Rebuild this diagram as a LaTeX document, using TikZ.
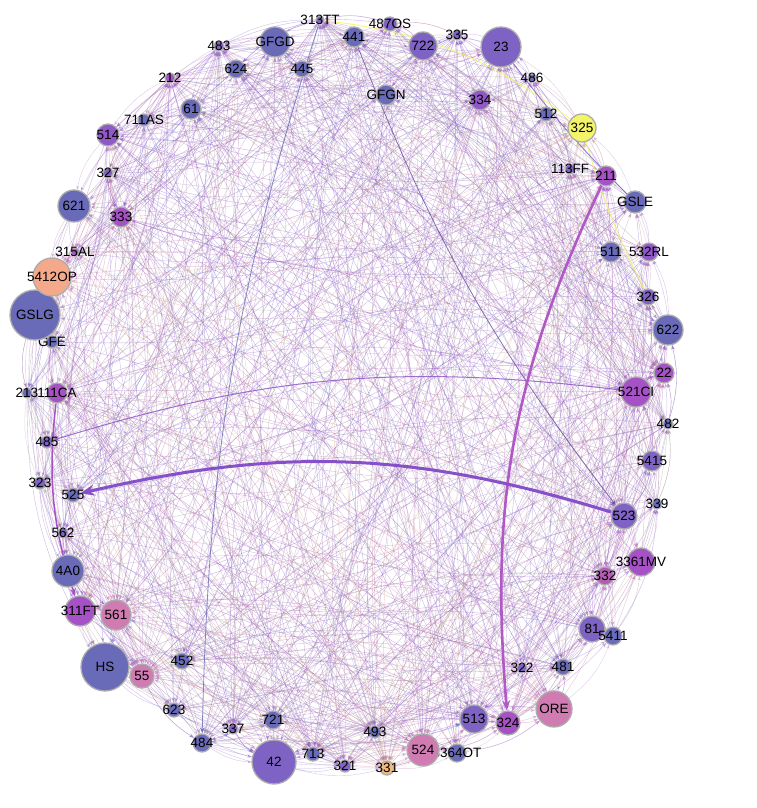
\documentclass[tikz,border=0pt]{standalone}
\usepackage{fontspec}
\setmainfont{Liberation Sans}
\usetikzlibrary{arrows.meta}
\definecolor{B}{HTML}{6A6BB8}
\definecolor{V}{HTML}{7E62C4}
\definecolor{P}{HTML}{9158C8}
\definecolor{M}{HTML}{A652C6}
\definecolor{N}{HTML}{B45CB4}
\definecolor{K}{HTML}{D07CB2}
\definecolor{S}{HTML}{F4A98A}
\definecolor{Y}{HTML}{F4F46A}
\definecolor{O}{HTML}{F6B87A}
\definecolor{E1}{HTML}{9A58D8}
\definecolor{E2}{HTML}{B49AEA}
\definecolor{E3}{HTML}{D866A8}
\definecolor{E4}{HTML}{F5A890}
\definecolor{E5}{HTML}{6E68D0}
\definecolor{E6}{HTML}{F2B25C}
\definecolor{E7}{HTML}{F0EE60}
\definecolor{thickA}{HTML}{8550C8}
\definecolor{thickB}{HTML}{B058C4}
\newcommand\pickcol[1]{%
  \ifdim#1pt<0.28pt \def\ec{E1}\else
  \ifdim#1pt<0.40pt \def\ec{E2}\else
  \ifdim#1pt<0.62pt \def\ec{E3}\else
  \ifdim#1pt<0.78pt \def\ec{E4}\else
  \ifdim#1pt<0.87pt \def\ec{E5}\else
  \ifdim#1pt<0.94pt \def\ec{E6}\else
  \def\ec{E7}\fi\fi\fi\fi\fi\fi}
\pgfdeclarelayer{bg}
\pgfsetlayers{bg,main}
\tikzset{
  nd/.style={circle, draw=gray!65, line width=1.3pt, inner sep=0pt},
  lbl/.style={font=\fontsize{13.5}{13.5}\selectfont, text=black, inner sep=0pt},
  edge/.style={line width=0.4pt, opacity=0.45, bend right=15, -{Stealth[length=5pt,width=3.5pt]}},
  ringedge/.style={line width=0.4pt, opacity=0.38, bend right=15, -{Stealth[length=4pt,width=3pt]}},
}
\begin{document}
\begin{tikzpicture}[x=1pt,y=1pt]
\useasboundingbox (0,0) rectangle (757,808);
\foreach \i/\nm/\x/\y/\r/\c/\w in {
1/313TT/320/20/4/V/3, 2/441/354/37/10/B/1, 3/487OS/390/24/7/V/2, 4/GFGN/386/95/10/B/1,
5/722/423/46/14/V/3, 6/335/457/35/5/V/2, 7/334/480/100/10/P/2, 8/23/501/47/20/V/3,
9/486/532/78/4/B/1, 10/512/546/114/7/B/1, 11/325/582/128/14/Y/2, 12/113FF/570/169/5/V/1,
13/211/606/176/10/M/2, 14/GSLE/635/202/11/B/1, 15/511/611/252/10/B/1, 16/532RL/649/252/9/P/1,
17/326/648/297/8/V/2, 18/622/668/330/15/B/1, 19/22/664/373/10/M/2, 20/521CI/636/392/15/M/3,
21/482/668/424/5/B/2, 22/5415/652/461/10/V/1, 23/339/657/504/5/B/1, 24/523/624/516/13/V/2,
25/3361MV/641/562/14/M/2, 26/332/605/576/9/N/3, 27/81/592/629/13/V/2, 28/5411/613/636/9/B/1,
29/481/563/667/8/B/2, 30/322/522/668/5/V/1, 31/ORE/554/709/18/K/3, 32/324/508/723/12/M/3,
33/513/474/719/14/V/3, 34/3364OT/457/753/9/B/1, 35/524/423/750/16/K/3, 36/493/375/732/6/B/3,
37/331/387/768/7/O/3, 38/321/345/766/6/V/2, 39/713/313/754/7/B/3, 40/42/274/762/22/V/2,
41/721/273/720/9/B/2, 42/337/233/729/5/V/3, 43/484/202/743/9/B/2, 44/623/174/710/7/B/1,
45/452/182/661/8/B/2, 46/55/142/676/12/K/3, 47/HS/105/667/24/B/1, 48/561/116/615/15/K/3,
49/311FT/80/611/15/M/2, 50/4A0/68/571/16/B/1, 51/562/63/533/5/V/1, 52/525/73/495/7/B/1,
53/323/40/483/6/V/2, 54/485/47/442/6/V/2, 55/111CA/57/393/10/M/2, 56/213/27/393/5/B/1,
57/GFE/52/342/6/B/1, 58/GSLG/35/315/25/B/1, 59/5412OP/52/277/19/S/3, 60/315AL/75/252/4/M/1,
61/333/121/217/10/M/3, 62/621/74/206/16/B/1, 63/327/108/173/5/V/2, 64/514/108/135/11/P/2,
65/711AS/144/120/6/B/1, 66/61/191/109/10/B/2, 67/212/170/78/5/M/3, 68/483/219/46/5/V/3,
69/624/236/69/9/B/2, 70/GFGD/275/42/15/B/1, 71/445/302/69/8/B/2}{
  \node[nd, fill=\c, minimum size={2*\r}, label={[lbl]center:\nm}] (n\i) at (\x,{808-\y}) {};
  \expandafter\xdef\csname col\i\endcsname{\c}
  \expandafter\xdef\csname w\i\endcsname{\w}
}
\begin{pgfonlayer}{bg}
\fill[white] (0,0) rectangle (757,808);
\pgfmathsetseed{4242}
\foreach \i in {1,...,71}{
  \foreach \j in {1,...,71}{
    \ifnum\i<\j
      \edef\wa{\csname w\i\endcsname}\edef\wb{\csname w\j\endcsname}
      \pgfmathsetmacro{\thr}{0.095*(\wa+\wb)}
      \pgfmathsetmacro{\rr}{rnd}
      \ifdim\rr pt<\thr pt
        \edef\ca{\csname col\i\endcsname}\edef\cb{\csname col\j\endcsname}
        \pgfmathsetmacro{\qq}{rnd}
        \pickcol{\qq}
        \pgfmathsetmacro{\dd}{rnd}
        \ifdim\dd pt<0.5pt
          \draw[edge, draw=\ec!65!\ca!65!\cb] (n\i) to (n\j);
        \else
          \draw[edge, draw=\ec!65!\cb!65!\ca] (n\j) to (n\i);
        \fi
      \fi
    \fi
  }
}
\foreach \k in {1,...,71}{
  \foreach \o in {2,3}{
    \pgfmathtruncatemacro{\t}{mod(\k+\o-1,71)+1}
    \edef\ca{\csname col\k\endcsname}\edef\cb{\csname col\t\endcsname}
    \pgfmathsetmacro{\qq}{rnd}
    \pickcol{\qq}
    \draw[ringedge, draw=\ec!65!\ca!65!\cb] (n\t) to (n\k);
  }
}
% prominent connectors
\draw[line width=1pt, draw=Y, opacity=0.8] (n11) to[bend right=15] (n1);
\draw[line width=1pt, draw=Y, opacity=0.8, -{Stealth[length=5pt,width=4pt]}] (n11) to[bend right=5] (n17);
\draw[line width=0.9pt, draw=V, opacity=0.85] (n8) to[bend right=4] (n14);
\draw[line width=0.8pt, draw=V!80!black, opacity=0.8, -{Stealth[length=5pt,width=4pt]}] (n2) to[bend right=8] (n24);
\draw[line width=0.8pt, draw=B, opacity=0.8, -{Stealth[length=6pt,width=5pt]}] (n1) to[bend right=8] (n43);
\draw[line width=1pt, draw=P, opacity=0.85, -{Stealth[length=6pt,width=5pt]}] (n20) to[bend right=12] (n54);
\draw[line width=1.5pt, draw=M, -{Stealth[length=8pt,width=6pt]}] (n55) to[bend right=12] (n49);
\draw[line width=2.6pt, draw=thickB, -{Stealth[length=10pt,width=8pt]}] (n13) to[bend right=15] (n32);
\draw[line width=3pt, draw=thickA, -{Stealth[length=14pt,width=11pt]}] (n24) to[bend right=15] (n52);
\end{pgfonlayer}
\end{tikzpicture}
\end{document}
